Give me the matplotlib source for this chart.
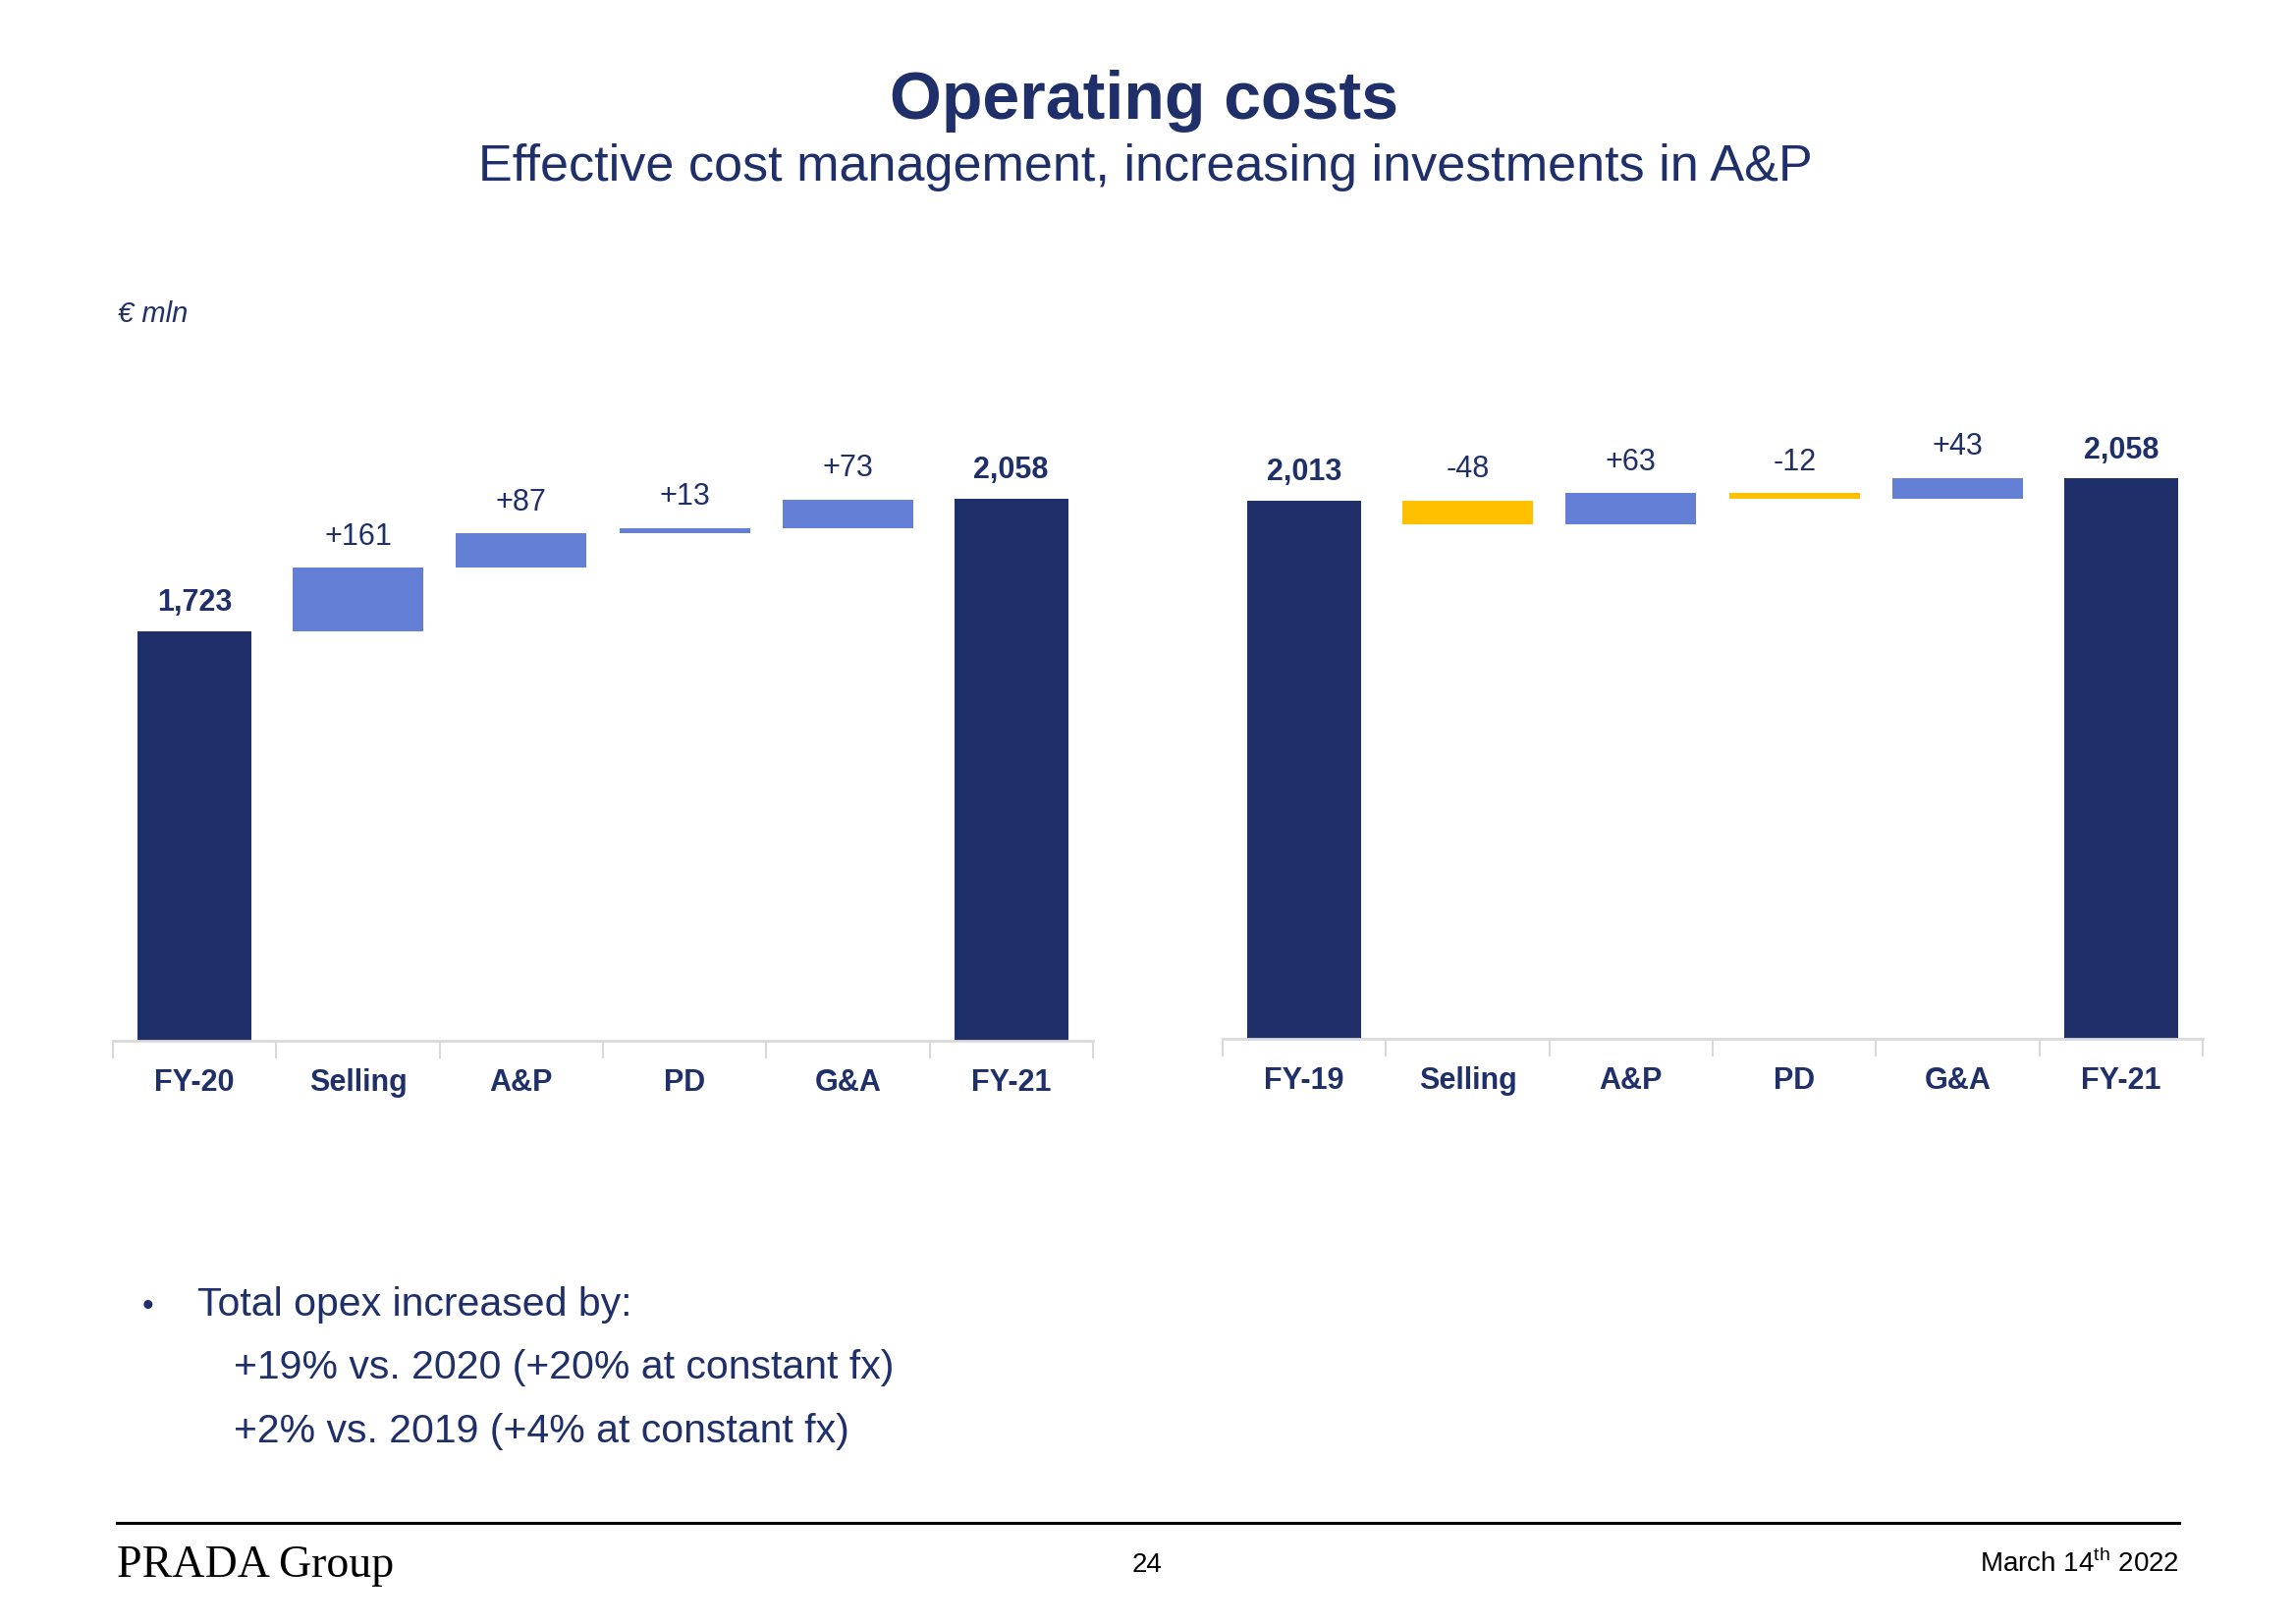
import matplotlib
matplotlib.use("Agg")
import matplotlib.pyplot as plt
import numpy as np

# =====================================
# DATA
# =====================================

left_labels = ["FY-20", "Selling", "A&P", "PD", "G&A", "FY-21"]
left_start = 1723
left_deltas = [161, 87, 13, 73]
left_end = 2058

right_labels = ["FY-19", "Selling", "A&P", "PD", "G&A", "FY-21"]
right_start = 2013
right_deltas = [-48, 63, -12, 43]
right_end = 2058

bullet_lines = [
    "Total opex increased by:",
    "+19% vs. 2020 (+20% at constant fx)",
    "+2% vs. 2019 (+4% at constant fx)",
]

# =====================================
# STYLE
# =====================================

NAVY = "#1F2F6A"
BLUE = "#6380D6"
YELLOW = "#FFC000"
GREY = "#D9D9D9"
FONT = ["Liberation Sans", "DejaVu Sans"]

plt.rcParams["font.family"] = FONT
plt.rcParams["mathtext.fontset"] = "custom"
plt.rcParams["mathtext.rm"] = "Liberation Sans"

fig = plt.figure(figsize=(23.38, 16.54), dpi=100)


def fmt_total(v):
    return f"{v:,}"


def fmt_delta(v):
    return f"{v:+d}"


def waterfall(ax, labels, start, deltas, end, ymin, ymax):
    x = np.arange(len(labels))
    # totals
    for xi, val in [(x[0], start), (x[-1], end)]:
        ax.bar(xi, val - ymin, bottom=ymin, width=0.7, color=NAVY)
        ax.annotate(fmt_total(val), (xi, val), xytext=(0, 10),
                    textcoords="offset points", ha="center", va="bottom",
                    fontsize=22, fontweight="bold", color=NAVY)
    # increments
    cum = start
    for xi, d in zip(x[1:-1], deltas):
        col = BLUE if d > 0 else YELLOW
        ax.bar(xi, d, bottom=cum, width=0.8, color=col)
        top = max(cum, cum + d)
        ax.annotate(fmt_delta(d), (xi, top), xytext=(0, 12),
                    textcoords="offset points", ha="center", va="bottom",
                    fontsize=22, color=NAVY)
        cum += d

    ax.set_xlim(-0.5, len(labels) - 0.5)
    ax.set_ylim(ymin, ymax)
    ax.set_xticks(x)
    ax.set_xticklabels(labels, fontsize=22, fontweight="bold", color=NAVY)
    ax.set_xticks(np.arange(len(labels) + 1) - 0.5, minor=True)
    ax.tick_params(axis="x", which="major", length=0, pad=20)
    ax.tick_params(axis="x", which="minor", length=13, width=1.5,
                   color=GREY, direction="out")
    ax.set_yticks([])
    for s in ["top", "left", "right"]:
        ax.spines[s].set_visible(False)
    ax.spines["bottom"].set_color(GREY)
    ax.spines["bottom"].set_linewidth(2)


# =====================================
# CHARTS
# =====================================

ax1 = fig.add_axes([0.0492, 0.3591, 0.4268, 0.3991])
waterfall(ax1, left_labels, left_start, left_deltas, left_end, 684, 2328)

ax2 = fig.add_axes([0.5325, 0.3604, 0.4269, 0.3978])
waterfall(ax2, right_labels, right_start, right_deltas, right_end, 917, 2233)

# =====================================
# TEXT
# =====================================

fig.text(0.4984, 0.927, "Operating costs", ha="center", va="baseline",
         fontsize=49, fontweight="bold", color=NAVY)
fig.text(0.4987, 0.889, "Effective cost management, increasing investments in A&P",
         ha="center", va="baseline", fontsize=37.5, color=NAVY)

fig.text(0.0513, 0.8065, "€ mln", ha="left", va="center", fontsize=21,
         style="italic", color=NAVY)

fig.text(0.062, 0.19, "•", ha="left", va="baseline", fontsize=24, color=NAVY)
fig.text(0.086, 0.19, bullet_lines[0], ha="left", va="baseline",
         fontsize=29.5, color=NAVY)
fig.text(0.102, 0.151, bullet_lines[1], ha="left", va="baseline",
         fontsize=29.5, color=NAVY)
fig.text(0.102, 0.112, bullet_lines[2], ha="left", va="baseline",
         fontsize=29.5, color=NAVY)

# footer
fig.add_artist(plt.Line2D([0.0509, 0.949], [0.0623, 0.0623], color="black",
                          linewidth=2.2, transform=fig.transFigure))
fig.text(0.0509, 0.029, "PRADA Group", ha="left", va="baseline", fontsize=33,
         color="black", family=["Liberation Serif", "DejaVu Serif"])
fig.text(0.4994, 0.032, "24", ha="center", va="baseline", fontsize=20,
         color="black")
fig.text(0.949, 0.032, r"March 14$^{\mathrm{th}}$ 2022", ha="right",
         va="baseline", fontsize=20, color="black")

fig.savefig("out.png", dpi=100)
